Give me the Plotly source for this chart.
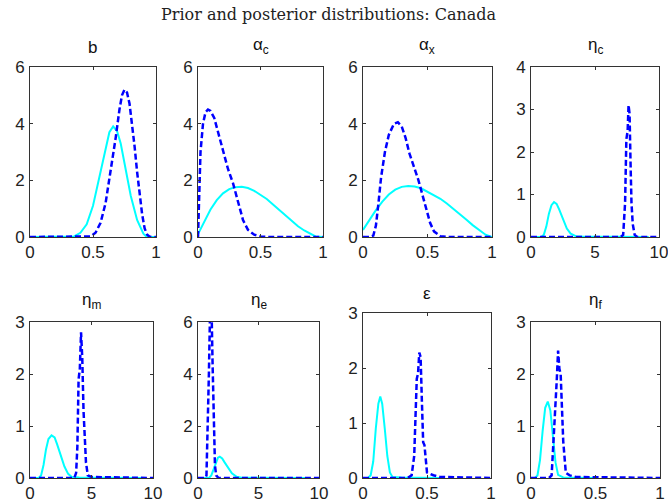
import plotly.graph_objects as go

# ---------------- data ----------------
titles = ["b", "α<sub>c</sub>", "α<sub>x</sub>", "η<sub>c</sub>",
          "η<sub>m</sub>", "η<sub>e</sub>", "ε", "η<sub>f</sub>"]

b_prior_x = [0, 0.1, 0.2, 0.3, 0.35, 0.4, 0.45, 0.5, 0.55, 0.6, 0.63, 0.66, 0.69, 0.72, 0.75, 0.8, 0.85, 0.9, 0.92, 0.95, 1.0]
b_prior_y = [0, 0, 0, 0, 0.02, 0.15, 0.45, 1.1, 2.1, 3.2, 3.7, 3.9, 3.75, 3.3, 2.6, 1.45, 0.6, 0.12, 0.03, 0, 0]
b_post_x = [0, 0.4, 0.48, 0.52, 0.56, 0.6, 0.64, 0.68, 0.71, 0.73, 0.75, 0.77, 0.79, 0.81, 0.83, 0.85, 0.87, 0.89, 0.91, 0.93, 0.95, 1.0]
b_post_y = [0, 0, 0.02, 0.15, 0.5, 1.2, 2.3, 3.5, 4.5, 5.0, 5.2, 5.1, 4.7, 4.0, 3.2, 2.3, 1.5, 0.8, 0.3, 0.08, 0.01, 0]

ac_prior_x = [0, 0.05, 0.1, 0.15, 0.2, 0.25, 0.3, 0.35, 0.4, 0.45, 0.5, 0.55, 0.6, 0.65, 0.7, 0.75, 0.8, 0.85, 0.9, 0.94, 1.0]
ac_prior_y = [0.1, 0.55, 0.97, 1.3, 1.54, 1.69, 1.76, 1.77, 1.73, 1.63, 1.5, 1.34, 1.15, 0.96, 0.76, 0.56, 0.38, 0.23, 0.1, 0.02, 0]
ac_post_x = [0, 0.005, 0.02, 0.04, 0.06, 0.08, 0.1, 0.13, 0.16, 0.2, 0.24, 0.28, 0.32, 0.36, 0.4, 0.45, 0.5, 0.55, 1.0]
ac_post_y = [0, 1.0, 3.0, 4.0, 4.4, 4.5, 4.45, 4.2, 3.7, 3.0, 2.4, 1.9, 1.2, 0.6, 0.25, 0.08, 0.02, 0, 0]

ax_prior_x = [0, 0.05, 0.1, 0.15, 0.2, 0.25, 0.3, 0.35, 0.4, 0.45, 0.5, 0.55, 0.6, 0.65, 0.7, 0.75, 0.8, 0.85, 0.9, 0.95, 1.0]
ax_prior_y = [0.25, 0.6, 0.95, 1.25, 1.5, 1.67, 1.77, 1.8, 1.78, 1.72, 1.6, 1.48, 1.35, 1.18, 1.0, 0.82, 0.62, 0.42, 0.24, 0.08, 0]
ax_post_x = [0, 0.05, 0.08, 0.1, 0.12, 0.14, 0.17, 0.2, 0.24, 0.27, 0.3, 0.33, 0.36, 0.4, 0.43, 0.46, 0.49, 0.52, 0.55, 0.6, 0.65, 1.0]
ax_post_y = [0, 0, 0.05, 0.4, 1.2, 2.1, 3.0, 3.6, 4.0, 4.05, 3.9, 3.5, 2.95, 2.45, 2.0, 1.5, 1.0, 0.5, 0.2, 0.03, 0, 0]

etac_prior_x = [0, 0.8, 1.0, 1.2, 1.4, 1.6, 1.8, 2.0, 2.2, 2.5, 2.8, 3.1, 3.5, 4.0, 9.2]
etac_prior_y = [0, 0, 0.05, 0.25, 0.55, 0.75, 0.82, 0.78, 0.65, 0.4, 0.2, 0.08, 0.02, 0.01, 0]
etac_post_x = [0, 7.0, 7.2, 7.35, 7.45, 7.55, 7.62, 7.7, 7.78, 7.85, 7.95, 8.1, 8.3, 10]
etac_post_y = [0, 0, 0.05, 0.8, 2.3, 2.5, 3.1, 2.9, 1.7, 0.8, 0.3, 0.05, 0, 0]

etam_prior_x = [0, 0.7, 0.9, 1.1, 1.3, 1.5, 1.75, 2.0, 2.2, 2.5, 2.8, 3.1, 3.4, 4.0, 9.3]
etam_prior_y = [0, 0, 0.05, 0.25, 0.55, 0.75, 0.82, 0.78, 0.65, 0.42, 0.22, 0.08, 0.02, 0.01, 0]
etam_post_x = [0, 3.6, 3.75, 3.85, 3.95, 4.05, 4.15, 4.25, 4.35, 4.45, 4.55, 4.7, 5.0, 10]
etam_post_y = [0, 0, 0.1, 0.6, 1.9, 2.1, 2.8, 2.3, 1.3, 0.8, 0.3, 0.05, 0.02, 0]

etae_prior_x = [0, 0.9, 1.1, 1.3, 1.5, 1.65, 1.8, 2.0, 2.2, 2.5, 2.8, 3.2, 3.6, 9.2]
etae_prior_y = [0, 0, 0.1, 0.35, 0.65, 0.78, 0.82, 0.75, 0.6, 0.38, 0.18, 0.05, 0.01, 0]
etae_post_x = [0, 0.6, 0.7, 0.8, 0.9, 1.0, 1.1, 1.2, 1.3, 1.4, 1.5, 1.7, 10]
etae_post_y = [0, 0, 0.1, 1.7, 4.0, 6.5, 7.0, 4.5, 2.0, 0.5, 0.1, 0, 0]

eps_prior_x = [0, 0.04, 0.06, 0.08, 0.1, 0.12, 0.135, 0.15, 0.17, 0.19, 0.21, 0.23, 0.3, 0.6]
eps_prior_y = [0, 0, 0.05, 0.3, 0.9, 1.35, 1.48, 1.35, 0.9, 0.4, 0.1, 0.02, 0.01, 0]
eps_post_x = [0, 0.35, 0.38, 0.4, 0.42, 0.43, 0.44, 0.45, 0.46, 0.47, 0.48, 0.5, 0.55, 0.6, 1.0]
eps_post_y = [0, 0, 0.05, 0.4, 1.8, 1.9, 2.28, 2.2, 1.4, 0.65, 0.6, 0.1, 0.05, 0.02, 0]

etaf_prior_x = [0, 0.03, 0.05, 0.07, 0.09, 0.11, 0.13, 0.15, 0.17, 0.19, 0.21, 0.25, 0.5]
etaf_prior_y = [0, 0, 0.05, 0.35, 0.9, 1.35, 1.47, 1.3, 0.8, 0.3, 0.06, 0.01, 0]
etaf_post_x = [0, 0.14, 0.16, 0.18, 0.2, 0.21, 0.22, 0.23, 0.24, 0.25, 0.27, 0.3, 0.35, 1.0]
etaf_post_y = [0, 0, 0.05, 0.9, 1.9, 2.45, 2.1, 2.0, 1.25, 0.7, 0.1, 0.05, 0.02, 0]

x_ranges = [[0, 1], [0, 1], [0, 1], [0, 10], [0, 10], [0, 10], [0, 1], [0, 1]]
y_ranges = [[0, 6], [0, 6], [0, 6], [0, 4], [0, 3], [0, 6], [0, 3], [0, 3]]
x_ticks = [[0, 0.5, 1], [0, 0.5, 1], [0, 0.5, 1], [0, 5, 10], [0, 5, 10], [0, 5, 10], [0, 0.5, 1], [0, 0.5, 1]]
y_ticks = [[0, 2, 4, 6], [0, 2, 4, 6], [0, 2, 4, 6], [0, 1, 2, 3, 4], [0, 1, 2, 3], [0, 2, 4, 6], [0, 1, 2, 3], [0, 1, 2, 3]]

priors = [(b_prior_x, b_prior_y), (ac_prior_x, ac_prior_y), (ax_prior_x, ax_prior_y), (etac_prior_x, etac_prior_y),
          (etam_prior_x, etam_prior_y), (etae_prior_x, etae_prior_y), (eps_prior_x, eps_prior_y), (etaf_prior_x, etaf_prior_y)]
posts = [(b_post_x, b_post_y), (ac_post_x, ac_post_y), (ax_post_x, ax_post_y), (etac_post_x, etac_post_y),
         (etam_post_x, etam_post_y), (etae_post_x, etae_post_y), (eps_post_x, eps_post_y), (etaf_post_x, etaf_post_y)]

# ---------------- layout geometry (window pixels) ----------------
W, H = 668, 504
boxes = [(30, 156, 67, 237), (198, 323, 67, 237), (363, 492, 67, 237), (531, 659, 67, 237),
         (30, 153, 322, 478), (198, 319, 322, 478), (363, 491, 313, 478), (531, 660, 322, 478)]


def fx(p):
    return p / W


def fy(p):
    return 1 - p / H


fig = go.Figure()
layout = dict(width=W, height=H, margin=dict(l=0, r=0, t=0, b=0, autoexpand=False),
              paper_bgcolor="white", plot_bgcolor="white", showlegend=False,
              font=dict(family="Liberation Sans, Arial", size=16, color="#222"))
annotations = []
for i in range(8):
    k = "" if i == 0 else str(i + 1)
    x0, x1, y0, y1 = boxes[i]
    ax = dict(domain=[fx(x0), fx(x1)], range=x_ranges[i], tickvals=x_ticks[i],
              ticktext=[f"{v:g}" for v in x_ticks[i]], ticks="inside", ticklen=3,
              tickcolor="#333", showline=True, linecolor="#333", linewidth=1,
              mirror="ticks", showgrid=False, zeroline=False, automargin=False,
              anchor="y" + k, tickfont=dict(size=17), ticklabelstandoff=0,
              ticklabeloverflow="allow")
    ay = dict(domain=[fy(y1), fy(y0)], range=y_ranges[i], tickvals=y_ticks[i],
              ticks="inside", ticklen=3, tickcolor="#333", showline=True,
              linecolor="#333", linewidth=1, mirror="ticks", showgrid=False,
              zeroline=False, automargin=False, anchor="x" + k, tickfont=dict(size=17),
              ticklabelstandoff=1, ticklabeloverflow="allow")
    layout["xaxis" + k] = ax
    layout["yaxis" + k] = ay
    px, py = priors[i]
    fig.add_trace(go.Scatter(x=px, y=py, mode="lines", xaxis="x" + k, yaxis="y" + k,
                             line=dict(color="#00FFFF", width=2), hoverinfo="skip"))
    qx, qy = posts[i]
    fig.add_trace(go.Scatter(x=qx, y=qy, mode="lines", xaxis="x" + k, yaxis="y" + k,
                             line=dict(color="#0000FF", width=2.5, dash="6px,3px"), hoverinfo="skip"))
    annotations.append(dict(text=titles[i], x=fx((x0 + x1) / 2), y=fy(y0 - 8),
                            xref="paper", yref="paper", xanchor="center", yanchor="bottom",
                            showarrow=False, font=dict(size=17, color="#111")))

annotations.append(dict(text="Prior and posterior distributions: Canada", x=fx(329), y=fy(14),
                        xref="paper", yref="paper", xanchor="center", yanchor="middle",
                        showarrow=False, font=dict(family="DejaVu Serif", size=16, color="#222")))
layout["annotations"] = annotations
fig.update_layout(**layout)
fig.write_html("out.html", config={"displayModeBar": False},
               post_script="document.body.style.margin='0';")
